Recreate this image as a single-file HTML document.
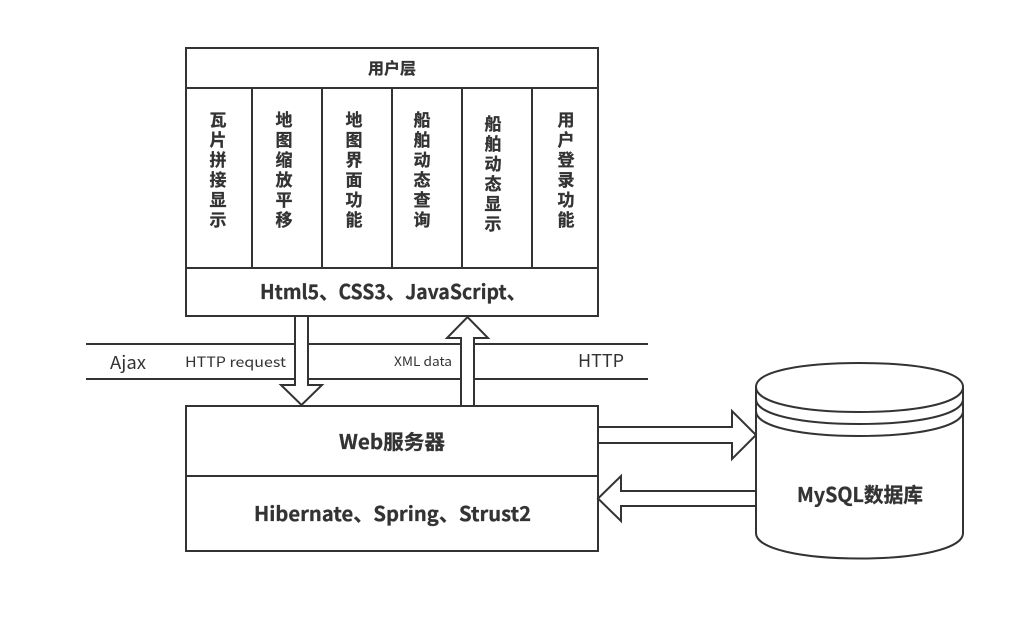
<!DOCTYPE html>
<html>
<head>
<meta charset="utf-8">
<style>
html,body{margin:0;padding:0;background:#fff;width:1025px;height:622px;overflow:hidden}
svg{display:block}
text{font-family:"Noto Sans CJK SC","Liberation Sans",sans-serif;fill:#333}
.b{font-weight:700;stroke:#333;stroke-width:.3px}
.c{font-size:17px;font-weight:700;text-anchor:middle;stroke:#333;stroke-width:.3px}
</style>
</head>
<body>
<svg width="1025" height="622" viewBox="0 0 1025 622" xmlns="http://www.w3.org/2000/svg">
<rect width="1025" height="622" fill="#fff"/>
<g fill="none" stroke="#333" stroke-width="2">
  <line x1="86" y1="344" x2="648" y2="344"/>
  <line x1="86" y1="379" x2="648" y2="379"/>
  <rect x="186" y="48" width="412" height="268" fill="#fff"/>
  <line x1="186" y1="88" x2="598" y2="88"/>
  <line x1="186" y1="268" x2="598" y2="268"/>
  <line x1="252" y1="88" x2="252" y2="268"/>
  <line x1="322" y1="88" x2="322" y2="268"/>
  <line x1="392" y1="88" x2="392" y2="268"/>
  <line x1="462" y1="88" x2="462" y2="268"/>
  <line x1="532" y1="88" x2="532" y2="268"/>
  <rect x="186" y="406" width="412" height="145" fill="#fff"/>
  <line x1="186" y1="476" x2="598" y2="476"/>
  <path d="M295 316V385H281L301.500 405L322 385H308V316Z" fill="#fff"/>
  <path d="M461 406V338H447L467.500 317L488 338H474V406Z" fill="#fff"/>
  <path d="M598 427H732V411L756 435L732 459V443H598Z" fill="#fff"/>
  <path d="M756 491H621V476L598 498.500L621 521V506H756Z" fill="#fff"/>
  <path d="M756 387C756 371 802 363 859.500 363C917 363 963 371 963 387V533C963 549 917 558.500 859.500 558.500C802 558.500 756 549 756 533Z" fill="#fff"/>
  <path d="M756 387C756 403 802 412 859.500 412C917 412 963 403 963 387"/>
  <path d="M756 399C756 415 802 424 859.500 424C917 424 963 415 963 399"/>
  <path d="M756 411C756 427 802 436 859.500 436C917 436 963 427 963 411"/>
</g>
<text x="392" y="74" class="b" font-size="16" text-anchor="middle">用户层</text>
<g>
  <text class="c" x="218" y="126">瓦</text><text class="c" x="218" y="146">片</text><text class="c" x="218" y="166">拼</text><text class="c" x="218" y="186">接</text><text class="c" x="218" y="206">显</text><text class="c" x="218" y="226">示</text>
  <text class="c" x="284" y="126">地</text><text class="c" x="284" y="146">图</text><text class="c" x="284" y="166">缩</text><text class="c" x="284" y="186">放</text><text class="c" x="284" y="206">平</text><text class="c" x="284" y="226">移</text>
  <text class="c" x="354" y="126">地</text><text class="c" x="354" y="146">图</text><text class="c" x="354" y="166">界</text><text class="c" x="354" y="186">面</text><text class="c" x="354" y="206">功</text><text class="c" x="354" y="226">能</text>
  <text class="c" x="422" y="126">船</text><text class="c" x="422" y="146">舶</text><text class="c" x="422" y="166">动</text><text class="c" x="422" y="186">态</text><text class="c" x="422" y="206">查</text><text class="c" x="422" y="226">询</text>
  <text class="c" x="493" y="130">船</text><text class="c" x="493" y="150">舶</text><text class="c" x="493" y="170">动</text><text class="c" x="493" y="190">态</text><text class="c" x="493" y="210">显</text><text class="c" x="493" y="230">示</text>
  <text class="c" x="566" y="126">用</text><text class="c" x="566" y="146">户</text><text class="c" x="566" y="166">登</text><text class="c" x="566" y="186">录</text><text class="c" x="566" y="206">功</text><text class="c" x="566" y="226">能</text>
</g>
<text x="260" y="299" class="b" font-size="20" textLength="266" lengthAdjust="spacingAndGlyphs">Html5、CSS3、JavaScript、</text>
<text x="110" y="369" font-size="18" textLength="36" lengthAdjust="spacingAndGlyphs">Ajax</text>
<text x="185" y="367" font-size="14" textLength="101" lengthAdjust="spacingAndGlyphs">HTTP request</text>
<text x="394" y="366" font-size="13" textLength="58" lengthAdjust="spacingAndGlyphs">XML data</text>
<text x="578" y="367" font-size="18" textLength="46" lengthAdjust="spacingAndGlyphs">HTTP</text>
<text x="339" y="449" class="b" font-size="20" textLength="106" lengthAdjust="spacingAndGlyphs">Web服务器</text>
<text x="254" y="521" class="b" font-size="20" textLength="277" lengthAdjust="spacingAndGlyphs">Hibernate、Spring、Strust2</text>
<text x="797" y="502" class="b" font-size="20" textLength="126" lengthAdjust="spacingAndGlyphs">MySQL数据库</text>
</svg>
</body>
</html>
